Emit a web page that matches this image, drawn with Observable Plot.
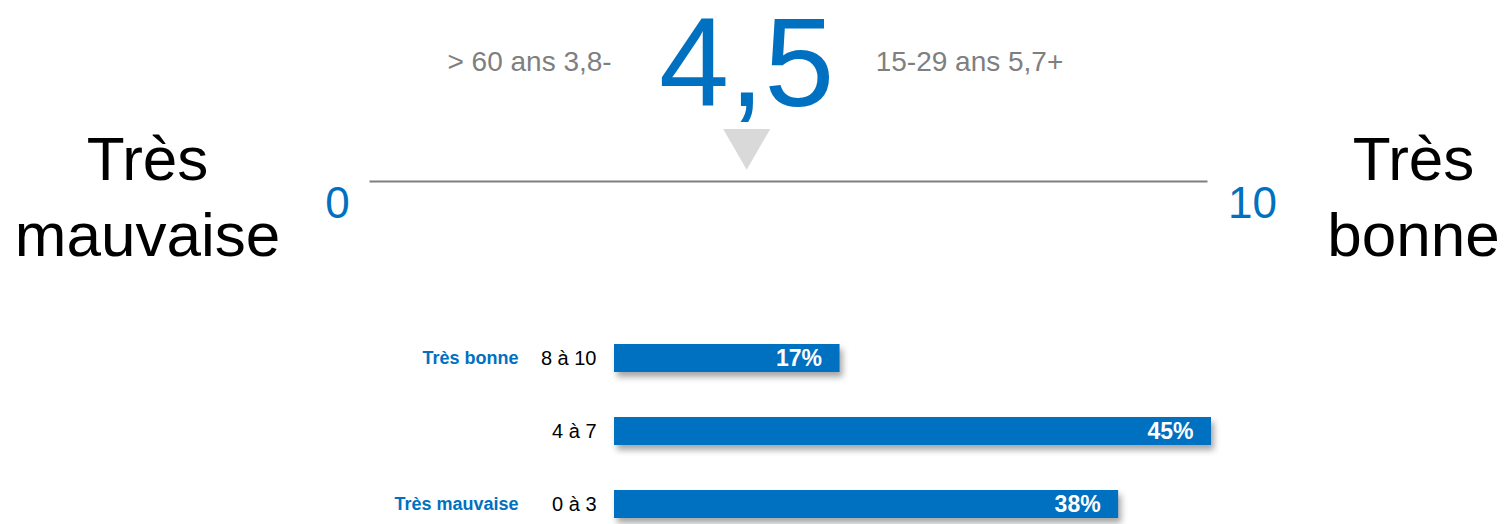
<!DOCTYPE html>
<html>
<head>
<meta charset="utf-8">
<script src="https://cdn.jsdelivr.net/npm/d3@7"></script>
<script src="https://cdn.jsdelivr.net/npm/@observablehq/plot@0.6"></script>
<style>
  html, body { margin: 0; padding: 0; background: #fff; }
  #chart svg { display: block; }
</style>
</head>
<body>
<div id="chart"></div>
<script>
// ---- data ----
const scaleMin = 0;
const scaleMax = 10;
const score = 4.5;
const scoreLabel = "4,5";
const lowGroupLabel = "> 60 ans 3,8-";
const highGroupLabel = "15-29 ans 5,7+";
const lowEndLabel = "Très\nmauvaise";
const highEndLabel = "Très\nbonne";

const categories = ["8 à 10", "4 à 7", "0 à 3"];
const shares = [17, 45, 38];
const qualifiers = ["Très bonne", "", "Très mauvaise"];

// ---- styles ----
const font = "Liberation Sans, Arial, Helvetica, sans-serif";
const blue = "#0070C0";
const grey = "#7f7f7f";

const rows = categories.map((c, i) => ({category: c, share: shares[i], qualifier: qualifiers[i]}));

// ---- top gauge ----
const gauge = Plot.plot({
  width: 1506,
  height: 300,
  marginLeft: 370,
  marginRight: 300,
  marginTop: 0,
  marginBottom: 119,
  style: {fontFamily: font, background: "transparent", overflow: "visible"},
  x: {domain: [scaleMin, scaleMax], axis: null},
  marks: [
    Plot.frame({anchor: "bottom", stroke: grey, strokeWidth: 2}),
    Plot.dot([score], {x: d => d, frameAnchor: "top", dy: 142, symbol: "triangle", r: 17.5, rotate: 180, fill: "#d9d9d9", stroke: null}),
    Plot.text([scoreLabel], {x: () => score, text: d => d, frameAnchor: "top", lineAnchor: "bottom", dy: 105, fontSize: 126, fill: blue}),
    Plot.text([lowGroupLabel], {x: () => score, text: d => d, frameAnchor: "top", lineAnchor: "bottom", dy: 70, dx: -135, textAnchor: "end", fontSize: 28, fill: grey}),
    Plot.text([highGroupLabel], {x: () => score, text: d => d, frameAnchor: "top", lineAnchor: "bottom", dy: 70, dx: 129, textAnchor: "start", fontSize: 28, fill: grey}),
    Plot.text([scaleMin], {x: d => d, text: d => String(d), frameAnchor: "top", dy: 186, dx: -33, fontSize: 44, fill: blue}),
    Plot.text([scaleMax], {x: d => d, text: d => String(d), frameAnchor: "top", dy: 186, dx: 46, fontSize: 44, fill: blue}),
    Plot.text([lowEndLabel], {x: () => scaleMin, text: d => d, frameAnchor: "top", lineAnchor: "bottom", lineHeight: 1.21, dy: 255, dx: -223, fontSize: 62, fill: "#000"}),
    Plot.text([highEndLabel], {x: () => scaleMax, text: d => d, frameAnchor: "top", lineAnchor: "bottom", lineHeight: 1.21, dy: 255, dx: 207, fontSize: 62, fill: "#000"})
  ]
});

// ---- bottom bars ----
const bars = Plot.plot({
  width: 1506,
  height: 224,
  marginLeft: 614,
  marginRight: 295,
  marginTop: 43,
  marginBottom: 5,
  style: {fontFamily: font, background: "transparent", overflow: "visible"},
  x: {domain: [0, d3.max(shares)], axis: null},
  y: {domain: categories, paddingInner: 0.62, paddingOuter: 0, axis: null},
  marks: [
    Plot.barX(rows, {x: "share", y: "category", fill: blue, imageFilter: "drop-shadow(3px 5px 3px rgba(0,0,0,0.35))"}),
    Plot.text(rows, {x: "share", y: "category", text: d => d.share + "%", textAnchor: "end", dx: -18, fill: "#fff", fontWeight: "bold", fontSize: 23}),
    Plot.text(rows, {x: 0, y: "category", text: "category", textAnchor: "end", dx: -18, fill: "#000", fontSize: 20}),
    Plot.text(rows, {x: 0, y: "category", text: "qualifier", textAnchor: "end", dx: -96, fill: blue, fontWeight: "bold", fontSize: 18})
  ]
});

const root = document.getElementById("chart");
root.appendChild(gauge);
root.appendChild(bars);
</script>
</body>
</html>
